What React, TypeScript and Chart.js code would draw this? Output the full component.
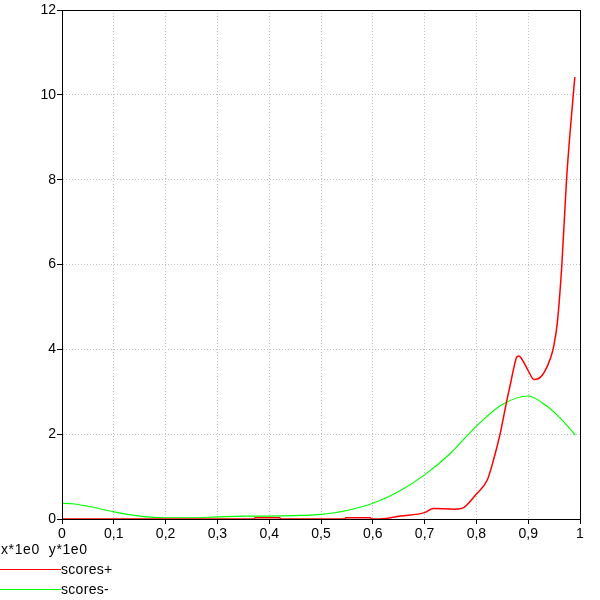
import React, { useEffect, useRef } from "react";
import { Chart, registerables } from "chart.js";

Chart.register(...registerables);

const xTicks = [0, 0.1, 0.2, 0.3, 0.4, 0.5, 0.6, 0.7, 0.8, 0.9, 1];
const yTicks = [0, 2, 4, 6, 8, 10, 12];

const scoresPlusX = [0, 0.1, 0.2, 0.3, 0.37, 0.373, 0.42, 0.423, 0.545, 0.548, 0.595, 0.598, 0.614, 0.653, 0.7, 0.717, 0.756, 0.772, 0.8, 0.821, 0.833, 0.846, 0.859, 0.866, 0.872, 0.878, 0.882, 0.886, 0.9, 0.911, 0.918, 0.93, 0.943, 0.949, 0.956, 0.965, 0.974, 0.987, 0.99];
const scoresPlusY = [0, 0, 0, 0, 0, 0.03, 0.03, 0, 0, 0.03, 0.03, 0, 0, 0.07, 0.15, 0.25, 0.23, 0.25, 0.59, 0.92, 1.39, 2.02, 2.81, 3.2, 3.55, 3.82, 3.84, 3.8, 3.5, 3.29, 3.3, 3.44, 3.79, 4.06, 4.6, 6.0, 8.0, 10.0, 10.42];

const scoresMinusX = [0, 0.02, 0.05, 0.1, 0.15, 0.2, 0.25, 0.3, 0.35, 0.4, 0.45, 0.5, 0.55, 0.6, 0.65, 0.7, 0.75, 0.8, 0.85, 0.9, 0.937, 0.96, 0.991];
const scoresMinusY = [0.37, 0.36, 0.3, 0.17, 0.07, 0.03, 0.03, 0.05, 0.07, 0.07, 0.08, 0.11, 0.2, 0.37, 0.65, 1.04, 1.55, 2.19, 2.7, 2.9, 2.65, 2.4, 1.98];

const FONT = "'Liberation Sans', Arial, sans-serif";

const borderPlugin = {
  id: "frameBorder",
  afterDraw(chart: any) {
    const { ctx, chartArea } = chart;
    ctx.save();
    ctx.strokeStyle = "#000";
    ctx.lineWidth = 1;
    ctx.setLineDash([]);
    ctx.strokeRect(
      Math.round(chartArea.left) + 0.5,
      Math.round(chartArea.top) + 0.5,
      Math.round(chartArea.right - chartArea.left),
      Math.round(chartArea.bottom - chartArea.top)
    );
    ctx.restore();
  },
};

export default function App() {
  const ref = useRef<HTMLCanvasElement | null>(null);

  useEffect(() => {
    if (!ref.current) return;
    const gridCommon = {
      color: "#c0c0c0",
      tickColor: "#000",
      tickBorderDash: [1, 0],
      tickLength: 5,
      drawTicks: true,
    };
    const borderCommon = { color: "#000", width: 1, dash: [1, 2] };
    const chart = new Chart(ref.current, {
      type: "line",
      data: {
        datasets: [
          {
            label: "scores+",
            data: scoresPlusX.map((x, i) => ({ x, y: scoresPlusY[i] })),
            borderColor: "#ff0000",
            borderWidth: 1.5,
            pointRadius: 0,
            cubicInterpolationMode: "monotone",
            fill: false,
          },
          {
            label: "scores-",
            data: scoresMinusX.map((x, i) => ({ x, y: scoresMinusY[i] })),
            borderColor: "#00ff00",
            borderWidth: 1.2,
            pointRadius: 0,
            cubicInterpolationMode: "monotone",
            fill: false,
          },
        ],
      },
      options: {
        responsive: false,
        animation: false,
        layout: { padding: { left: 0, top: 10, right: 20, bottom: 0 } },
        plugins: { legend: { display: false }, tooltip: { enabled: false } },
        scales: {
          x: {
            type: "linear",
            min: 0,
            max: 1,
            afterBuildTicks: (axis: any) => {
              axis.ticks = xTicks.map((v) => ({ value: v }));
            },
            afterFit: (axis: any) => {
              axis.height = 81;
            },
            grid: gridCommon,
            border: borderCommon,
            ticks: {
              color: "#000",
              padding: 2,
              maxRotation: 0,
              autoSkip: false,
              font: { family: FONT, size: 14 },
              callback: (v: any) => String(Math.round(Number(v) * 10) / 10).replace(".", ","),
            },
          },
          y: {
            type: "linear",
            min: 0,
            max: 12,
            afterBuildTicks: (axis: any) => {
              axis.ticks = yTicks.map((v) => ({ value: v }));
            },
            afterFit: (axis: any) => {
              axis.width = 62;
            },
            grid: gridCommon,
            border: borderCommon,
            ticks: {
              color: "#000",
              padding: 1,
              autoSkip: false,
              font: { family: FONT, size: 14 },
              callback: (v: any) => String(v),
            },
          },
        },
      },
      plugins: [borderPlugin],
    } as any);
    return () => chart.destroy();
  }, []);

  const textStyle: React.CSSProperties = {
    position: "absolute",
    fontFamily: FONT,
    fontSize: 14,
    lineHeight: "16px",
    color: "#000",
    whiteSpace: "pre",
  };

  return (
    <div style={{ position: "fixed", left: 0, top: 0, width: 600, height: 600, background: "#fff" }}>
      <canvas ref={ref} width={600} height={600} style={{ display: "block" }} />
      <div style={{ ...textStyle, left: 1, top: 541, letterSpacing: "0.6px" }}>{"x*1e0  y*1e0"}</div>
      <div style={{ position: "absolute", left: 0, top: 569, width: 61, height: 1, background: "#ff0000" }} />
      <div style={{ ...textStyle, left: 61, top: 561, letterSpacing: "0.3px" }}>scores+</div>
      <div style={{ position: "absolute", left: 0, top: 589, width: 61, height: 1, background: "#00ff00" }} />
      <div style={{ ...textStyle, left: 61, top: 581, letterSpacing: "0.3px" }}>scores-</div>
    </div>
  );
}
